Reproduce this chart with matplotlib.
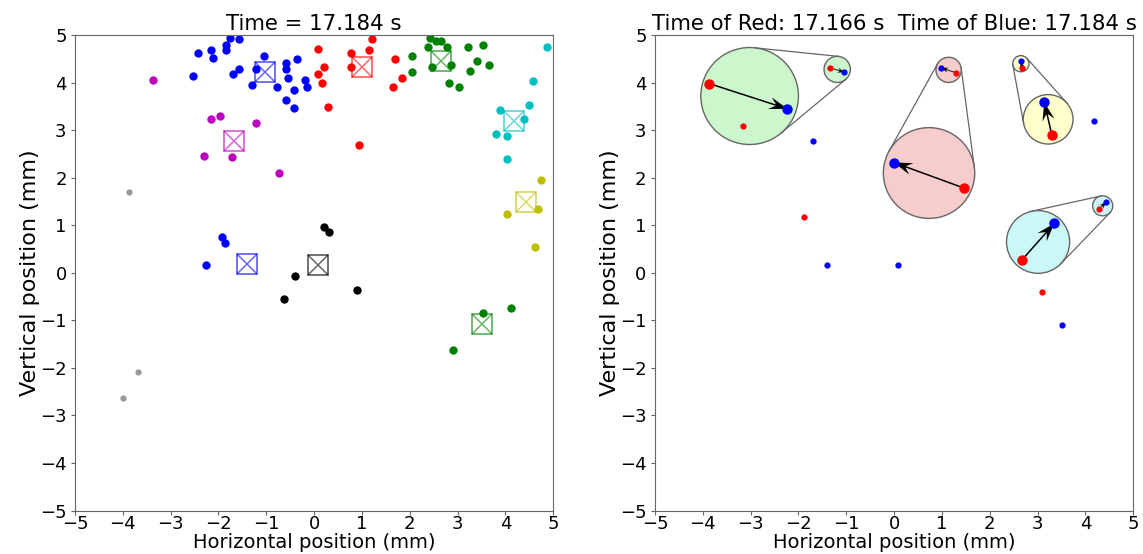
import numpy as np
import matplotlib.pyplot as plt
from matplotlib.patches import Circle

# ---- left panel: tracked points per cluster ----
blue_top_x = [-1.76, -1.57, -1.85, -1.85, -2.43, -2.15, -2.11, -1.05, -0.35, -0.59, -0.59, -1.57,
              -1.69, -1.22, -2.54, -0.54, -0.19, -0.15, -1.29, -0.78, -0.42, -0.59, -0.42]
blue_top_y = [4.94, 4.91, 4.79, 4.68, 4.63, 4.68, 4.52, 4.56, 4.49, 4.42, 4.29, 4.29,
              4.19, 4.29, 4.14, 4.10, 4.06, 3.91, 3.96, 3.92, 3.84, 3.64, 3.46]
magenta_x = [-3.37, -2.15, -1.96, -1.22, -2.31, -1.71, -0.74]
magenta_y = [4.06, 3.23, 3.29, 3.15, 2.46, 2.43, 2.11]
red_pts_x = [1.21, 0.08, 0.78, 1.14, 0.20, 0.08, 0.78, 0.16, 0.28, 0.94, 1.69, 1.84, 1.65]
red_pts_y = [4.91, 4.71, 4.63, 4.68, 4.33, 4.18, 4.33, 3.99, 3.49, 2.69, 4.49, 4.10, 3.92]
green_top_x = [2.42, 2.54, 2.66, 2.78, 2.39, 2.04, 3.21, 3.52, 3.41, 3.65, 3.26, 2.87, 2.47, 2.04, 2.82, 3.02]
green_top_y = [4.94, 4.87, 4.87, 4.75, 4.75, 4.56, 4.75, 4.79, 4.45, 4.38, 4.25, 4.38, 4.33, 4.22, 3.99, 3.92]
cyan_x = [4.86, 4.58, 4.50, 3.88, 4.39, 3.80, 4.04, 4.04]
cyan_y = [4.75, 4.03, 3.53, 3.42, 3.23, 2.92, 2.88, 2.39]
blue_low_x = [-1.92, -1.87, -2.27]
blue_low_y = [0.75, 0.62, 0.16]
black_x = [0.20, 0.32, -0.39, -0.62, 0.90]
black_y = [0.97, 0.85, -0.07, -0.55, -0.37]
yellow_x = [4.74, 4.04, 4.69, 4.62]
yellow_y = [1.96, 1.24, 1.35, 0.55]
green_low_x = [3.53, 4.11, 2.90]
green_low_y = [-0.85, -0.74, -1.62]
gray_x = [-3.87, -3.68, -4.00]
gray_y = [1.70, -2.09, -2.63]

# cluster centres (boxed crosses)
center_colors = ["b", "m", "r", "g", "c", "b", "k", "y", "g"]
center_x = [-1.03, -1.68, 1.00, 2.65, 4.18, -1.41, 0.08, 4.43, 3.51]
center_y = [4.22, 2.78, 4.33, 4.46, 3.20, 0.18, 0.16, 1.50, -1.08]

# ---- right panel ----
red_x = [-1.35, 1.29, 2.68, 4.29, -3.15, -1.89, 3.09]
red_y = [4.32, 4.21, 4.31, 1.34, 3.08, 1.18, -0.40]
blue_x = [-1.04, 0.99, 2.65, 4.43, -1.69, 4.18, -1.41, 0.08, 3.51]
blue_y = [4.22, 4.31, 4.45, 1.49, 2.77, 3.19, 0.17, 0.16, -1.09]
n_pairs = 4  # first red/blue entries are matched pairs

zoom_small_x = [-1.19, 1.14, 2.65, 4.36]
zoom_small_y = [4.28, 4.27, 4.40, 1.41]
zoom_small_r = [0.275, 0.265, 0.17, 0.21]
zoom_big_x = [-3.02, 0.73, 3.22, 3.01]
zoom_big_y = [3.72, 2.10, 3.23, 0.65]
zoom_big_r = [1.02, 0.955, 0.52, 0.66]
zoom_red_x = [-3.86, 1.47, 3.30, 2.68]
zoom_red_y = [3.98, 1.78, 2.89, 0.28]
zoom_blue_x = [-2.23, 0.00, 3.14, 3.35]
zoom_blue_y = [3.45, 2.32, 3.59, 1.04]
zoom_fill = [(0.80, 0.97, 0.80), (0.97, 0.80, 0.80), (1.0, 1.0, 0.80), (0.80, 0.97, 0.97)]


def tangent_lines(c1, r1, c2, r2):
    c1, c2 = np.asarray(c1), np.asarray(c2)
    d = np.hypot(*(c2 - c1))
    u = (c2 - c1) / d
    a = np.arccos((r1 - r2) / d)
    segs = []
    for s in (1, -1):
        ca, sa = np.cos(s * a), np.sin(s * a)
        n = np.array([u[0] * ca - u[1] * sa, u[0] * sa + u[1] * ca])
        segs.append((c1 + r1 * n, c2 + r2 * n))
    return segs


def style_axes(ax, title):
    ax.set_xlim(-5, 5)
    ax.set_ylim(-5, 5)
    ax.set_xticks(range(-5, 6))
    ax.set_yticks(range(-5, 6))
    ax.set_xlabel("Horizontal position (mm)", fontsize=14, labelpad=0)
    ax.set_ylabel("Vertical position (mm)", fontsize=16, labelpad=0)
    ax.set_title(title, fontsize=15.3, pad=4)
    ax.tick_params(labelsize=13, length=3, color="0.4")
    ax.tick_params(axis="x", pad=0)
    ax.tick_params(axis="y", pad=3)
    for sp in ax.spines.values():
        sp.set_color("0.4")


fig = plt.figure(figsize=(11.43, 5.54), dpi=100)
ax1 = fig.add_axes([0.0656, 0.0785, 0.4185, 0.858])
ax2 = fig.add_axes([0.5730, 0.0785, 0.4185, 0.858])

# left panel
clusters = [
    (blue_top_x, blue_top_y, "b"),
    (magenta_x, magenta_y, "m"),
    (red_pts_x, red_pts_y, "r"),
    (green_top_x, green_top_y, "g"),
    (cyan_x, cyan_y, "c"),
    (blue_low_x, blue_low_y, "b"),
    (black_x, black_y, "k"),
    (yellow_x, yellow_y, "y"),
    (green_low_x, green_low_y, "g"),
]
for xs, ys, c in clusters:
    ax1.plot(xs, ys, "o", color=c, ms=6, mec="none")
ax1.plot(gray_x, gray_y, "o", color="0.6", ms=4.5, mec="none")
for cx, cy, c in zip(center_x, center_y, center_colors):
    ax1.plot(cx, cy, marker="s", ms=14, mfc="none", mec=c, mew=1.3, alpha=0.6)
    ax1.plot(cx, cy, marker="x", ms=14, mec=c, mew=1.1, alpha=0.6)
style_axes(ax1, "Time = 17.184 s")

# right panel
for i in range(len(zoom_small_x)):
    cs, rs = (zoom_small_x[i], zoom_small_y[i]), zoom_small_r[i]
    cb, rb = (zoom_big_x[i], zoom_big_y[i]), zoom_big_r[i]
    for circ_c, circ_r in ((cs, rs), (cb, rb)):
        ax2.add_patch(Circle(circ_c, circ_r, fc=zoom_fill[i], ec="0.4", lw=1.0, zorder=2))
    for p, q in tangent_lines(cb, rb, cs, rs):
        ax2.plot([p[0], q[0]], [p[1], q[1]], color="0.4", lw=0.9, zorder=2)

rx = np.array(zoom_red_x)
ry = np.array(zoom_red_y)
ax2.quiver(rx, ry, np.array(zoom_blue_x) - rx, np.array(zoom_blue_y) - ry,
           angles="xy", scale_units="xy", scale=1, color="k", zorder=3,
           width=0.0032, headwidth=8, headlength=12, headaxislength=8)
sx = np.array(red_x[:n_pairs])
sy = np.array(red_y[:n_pairs])
ax2.quiver(sx, sy, np.array(blue_x[:n_pairs]) - sx, np.array(blue_y[:n_pairs]) - sy,
           angles="xy", scale_units="xy", scale=1, color="k", zorder=3,
           width=0.0018, headwidth=6, headlength=8, headaxislength=5.5)

ax2.plot(zoom_red_x, zoom_red_y, "o", color="r", ms=7.5, mec="none", zorder=4)
ax2.plot(zoom_blue_x, zoom_blue_y, "o", color="b", ms=7.5, mec="none", zorder=4)
ax2.plot(red_x, red_y, "o", color="r", ms=4.5, mec="none", zorder=4)
ax2.plot(blue_x, blue_y, "o", color="b", ms=4.5, mec="none", zorder=4)
style_axes(ax2, "Time of Red: 17.166 s  Time of Blue: 17.184 s")

fig.savefig("out.png", dpi=100)
